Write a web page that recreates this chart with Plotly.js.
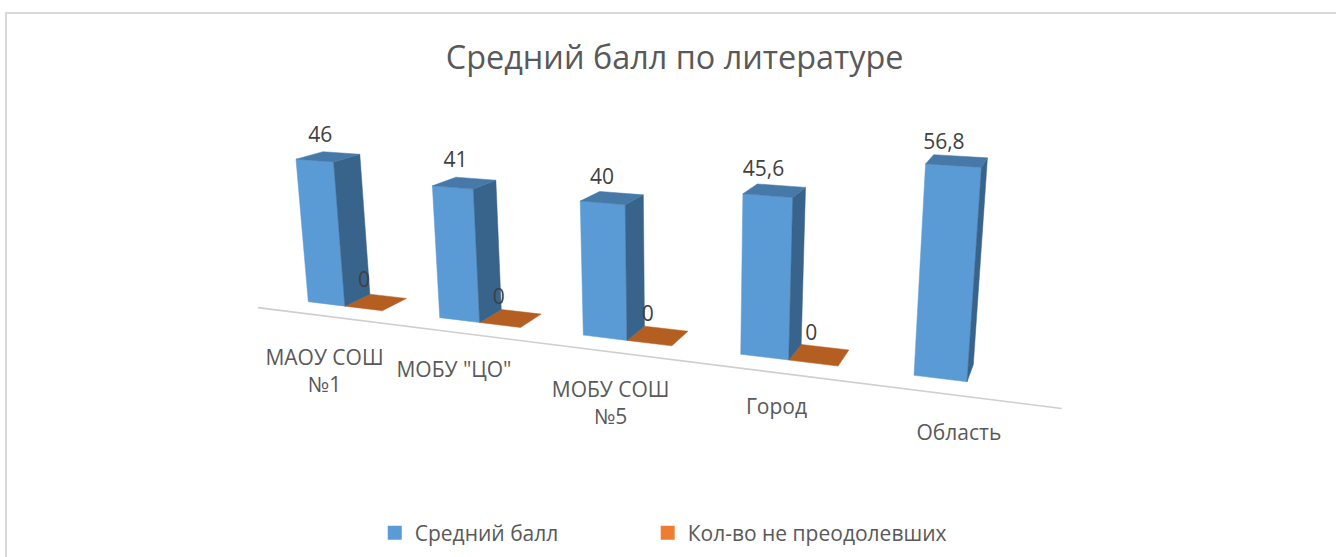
<!DOCTYPE html>
<html>
<head>
<meta charset="utf-8">
<script src="https://cdn.plot.ly/plotly-3.0.1.min.js"></script>
<style>html,body{margin:0;padding:0;background:#fff;overflow:hidden}#chart{width:1336px;height:557px}</style>
</head>
<body>
<div id="chart"></div>
<script>
// ---- data ----
const categories = ['МАОУ СОШ<br>№1', 'МОБУ "ЦО"', 'МОБУ СОШ<br>№5', 'Город', 'Область'];
const averageScores = [46, 41, 40, 45.6, 56.8];
const notPassed = [0, 0, 0, 0, null];
const seriesNames = ['Средний балл', 'Кол-во не преодолевших'];

// ---- 3D camera: (category position u, depth v, value z) -> page pixel ----
const CAM = {
  x: [112.95, 36.68, 682 * -0.000693, 308.3],
  y: [2.6, -2.33, 4630 * -0.000693, 301.7],
  w: [-0.0421, 0.0324, -0.000693, 1]
};
function project(u, v, z) {
  const d = (r) => r[0] * u + r[1] * v + r[2] * z + r[3];
  const w = d(CAM.w);
  return [d(CAM.x) / w, d(CAM.y) / w];
}

const BAR_W = 0.287, AXIS_V = -0.77;
const COL = {
  blueFront: '#5b9bd5', blueSide: '#38638a', blueTop: '#4678a8',
  orangeTop: '#b55e21', orangeLegend: '#ed7d31'
};

const traces = [];
function face(pts, color) {
  const xs = pts.map(p => p[0]), ys = pts.map(p => p[1]);
  xs.push(xs[0]); ys.push(ys[0]);
  traces.push({
    type: 'scatter', mode: 'lines', x: xs, y: ys, fill: 'toself', fillcolor: color,
    line: {width: 0.5, color: color}, hoverinfo: 'skip', showlegend: false
  });
}
function box(u0, value, front, side, top) {
  const u1 = u0 + BAR_W;
  if (value > 0) {
    face([project(u0,0,0), project(u1,0,0), project(u1,0,value), project(u0,0,value)], front);
    face([project(u1,0,0), project(u1,1,0), project(u1,1,value), project(u1,0,value)], side);
  }
  face([project(u0,0,value), project(u1,0,value), project(u1,1,value), project(u0,1,value)], top);
}

// floor axis line
const axisA = project(-0.23, AXIS_V, 0), axisB = project(4.79, AXIS_V, 0);
traces.push({type:'scatter', mode:'lines', x:[axisA[0],axisB[0]], y:[axisA[1],axisB[1]],
  line:{color:'#cfcfcf', width:1.6}, hoverinfo:'skip', showlegend:false});

averageScores.forEach((v, k) => {
  if (notPassed[k] !== null) box(k + BAR_W, notPassed[k], COL.orangeLegend, COL.orangeTop, COL.orangeTop);
  box(k, v, COL.blueFront, COL.blueSide, COL.blueTop);
});

// data labels
const fmt = v => String(v).replace('.', ',');
const blueNudgeX = [-8, -9, -10, -11, -13];
const blueNudgeY = [-20, -21, -19, -20, -17];
const orangeNudgeX = [-12, -12, -10, -8];
const labX = [], labY = [], labT = [];
averageScores.forEach((v, k) => {
  const p = project(k + BAR_W / 2, 0.5, v);
  labX.push(p[0] + blueNudgeX[k]); labY.push(p[1] + blueNudgeY[k]); labT.push(fmt(v));
  if (notPassed[k] !== null) {
    const q = project(k + 1.5 * BAR_W, 0.5, notPassed[k]);
    labX.push(q[0] + orangeNudgeX[k]); labY.push(q[1] - 20); labT.push(fmt(notPassed[k]));
  }
});
traces.push({type:'scatter', mode:'text', x:labX, y:labY, text:labT, textposition:'middle center',
  textfont:{family:'Open Sans, Noto Sans, sans-serif', size:21, color:'#404040'},
  hoverinfo:'skip', showlegend:false});

// category labels under the floor line
const catNudgeX = [0, -8, -2, -2, -3];
const catNudgeY = [33, 28, 29, 25, 28];
const catPts = categories.map((c, k) => project(k + BAR_W, AXIS_V, 0));
traces.push({type:'scatter', mode:'text',
  x: catPts.map((p, k) => p[0] + catNudgeX[k]), y: catPts.map((p, k) => p[1] + catNudgeY[k]),
  text: categories, textposition:'bottom center',
  textfont:{family:'Open Sans, Noto Sans, sans-serif', size:21, color:'#595959'},
  hoverinfo:'skip', showlegend:false});

// legend entries
[COL.blueFront, COL.orangeLegend].forEach((c, i) => traces.push({
  type:'scatter', mode:'markers', x:[null], y:[null], name:seriesNames[i],
  legend: i === 0 ? 'legend' : 'legend2',
  marker:{symbol:'square', size:14, color:c}, showlegend:true, hoverinfo:'skip'
}));

const legendBase = {
  orientation:'h', xanchor:'left', y:0.043, yanchor:'middle',
  itemclick:false, itemdoubleclick:false, bgcolor:'rgba(0,0,0,0)',
  font:{family:'Open Sans, Noto Sans, sans-serif', size:21, color:'#595959'}
};

const layout = {
  width: 1336, height: 557,
  margin: {l:0, r:0, t:0, b:0, pad:0},
  paper_bgcolor:'#fff', plot_bgcolor:'#fff',
  xaxis: {range:[0,1336], visible:false, fixedrange:true},
  yaxis: {range:[557,0], visible:false, fixedrange:true},
  title: {text:'Средний балл по литературе', x:0.505, xanchor:'center', y:0.896, yanchor:'middle',
    font:{family:'Open Sans, Noto Sans, sans-serif', size:32.4, color:'#595959'}},
  legend: Object.assign({x:0.2805}, legendBase),
  legend2: Object.assign({x:0.4848}, legendBase),
  shapes: [
    {type:'line', xref:'paper', yref:'paper', x0:6/1336, x1:1, y0:1-13/557, y1:1-13/557, line:{color:'#d9d9d9', width:2}},
    {type:'line', xref:'paper', yref:'paper', x0:6/1336, x1:6/1336, y0:1-12/557, y1:0, line:{color:'#d9d9d9', width:2}}
  ]
};
Plotly.newPlot('chart', traces, layout, {displayModeBar:false, staticPlot:true});
</script>
</body>
</html>
